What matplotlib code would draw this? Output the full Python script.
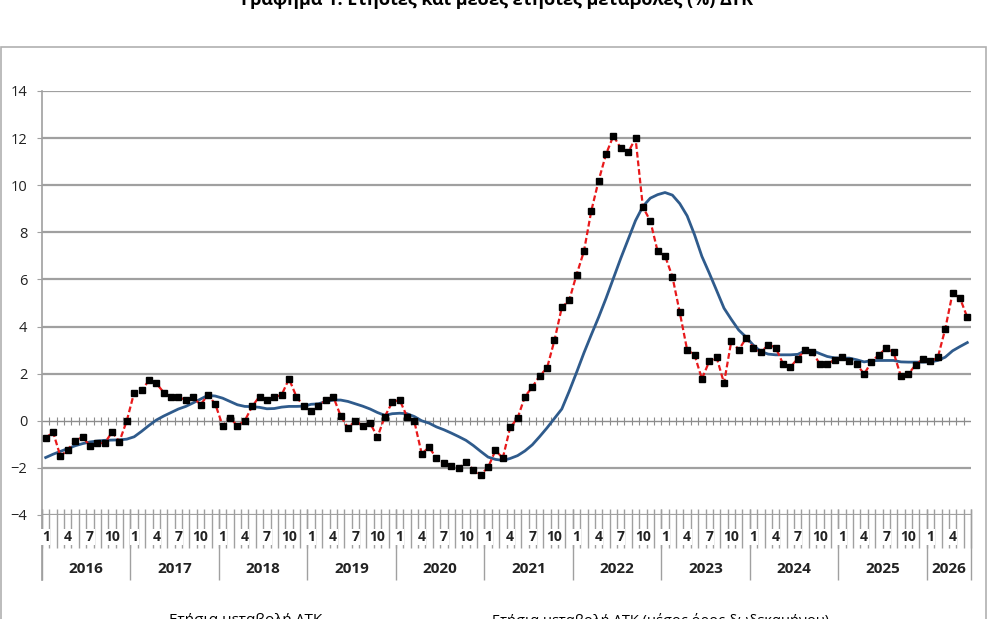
import matplotlib
matplotlib.use("Agg")
import matplotlib.pyplot as plt
import matplotlib.transforms as mtransforms
from matplotlib.patches import Rectangle

plt.rcParams['font.family'] = ['Open Sans', 'DejaVu Sans']

# data: monthly CPI, Jan 2016 - Jun 2026
years = ['2016', '2017', '2018', '2019', '2020', '2021', '2022', '2023', '2024', '2025', '2026']
months_per_year = [12, 12, 12, 12, 12, 12, 12, 12, 12, 12, 6]
month_labels = ['1', '4', '7', '10']

annual_change = [
    -0.73, -0.48, -1.51, -1.23, -0.85, -0.69, -1.06, -0.95, -0.95, -0.48, -0.88, 0.0,
    1.2, 1.29, 1.71, 1.6, 1.2, 1.0, 1.0, 0.89, 1.0, 0.68, 1.1, 0.71,
    -0.21, 0.11, -0.21, 0.0, 0.61, 1.03, 0.89, 1.0, 1.1, 1.78, 1.03, 0.61,
    0.4, 0.61, 0.89, 1.03, 0.21, -0.3, 0.0, -0.21, -0.1, -0.69, 0.18, 0.79,
    0.89, 0.18, -0.03, -1.4, -1.12, -1.59, -1.8, -1.94, -2.01, -1.77, -2.08, -2.29,
    -1.98, -1.26, -1.58, -0.28, 0.11, 1.03, 1.43, 1.91, 2.24, 3.41, 4.81, 5.11,
    6.2, 7.19, 8.91, 10.2, 11.32, 12.1, 11.57, 11.39, 12.0, 9.07, 8.49, 7.19,
    7.0, 6.12, 4.6, 3.01, 2.8, 1.78, 2.52, 2.69, 1.6, 3.4, 3.01, 3.51,
    3.11, 2.9, 3.23, 3.11, 2.42, 2.28, 2.64, 3.01, 2.91, 2.41, 2.41, 2.59,
    2.69, 2.52, 2.41, 1.98, 2.5, 2.8, 3.08, 2.9, 1.88, 1.98, 2.38, 2.62,
    2.52, 2.69, 3.89, 5.42, 5.21, 4.39,
]

avg_change = [
    -1.56, -1.42, -1.30, -1.18, -1.06, -0.97, -0.90, -0.86, -0.83, -0.82, -0.81, -0.78,
    -0.68, -0.45, -0.20, 0.03, 0.20, 0.35, 0.50, 0.61, 0.76, 0.92, 1.08, 1.05,
    0.96, 0.82, 0.68, 0.61, 0.60, 0.57, 0.51, 0.52, 0.58, 0.61, 0.61, 0.62,
    0.70, 0.72, 0.82, 0.88, 0.88, 0.82, 0.72, 0.62, 0.50, 0.35, 0.23, 0.30,
    0.32, 0.30, 0.18, 0.00, -0.10, -0.26, -0.38, -0.52, -0.67, -0.83, -1.05, -1.30,
    -1.54, -1.64, -1.68, -1.60, -1.48, -1.28, -1.02, -0.67, -0.30, 0.10, 0.50, 1.25,
    2.05, 2.88, 3.65, 4.40, 5.20, 6.05, 6.90, 7.70, 8.50, 9.10, 9.45, 9.60,
    9.69, 9.58, 9.22, 8.70, 7.90, 6.98, 6.27, 5.53, 4.78, 4.30, 3.85, 3.55,
    3.20, 2.94, 2.83, 2.80, 2.80, 2.80, 2.82, 2.97, 2.98, 2.85, 2.73, 2.67,
    2.66, 2.66, 2.59, 2.50, 2.55, 2.56, 2.56, 2.56, 2.50, 2.49, 2.49, 2.49,
    2.50, 2.56, 2.70, 2.97, 3.15, 3.32,
]

n = len(annual_change)
x = list(range(n))

fig = plt.figure(figsize=(9.9, 6.19), dpi=100)
ax = fig.add_axes([42 / 990, 1 - 515 / 619, 929 / 990, 424 / 619])

grid_col = '#a0a0a0'

# outer chart-area border
fig.patches.append(Rectangle((1 / 990, -0.05), 985 / 990, 1.05 - 47 / 619,
                             transform=fig.transFigure, fill=False,
                             edgecolor='#b0b0b0', linewidth=1.2))

# gridlines (0 is the axis line)
for v in range(-4, 15, 2):
    if v == 0:
        continue
    ax.axhline(v, color=grid_col, linewidth=1.6, zorder=1)
ax.axhline(0, color='#8c8c8c', linewidth=1.0, zorder=1)
# cross tick marks on the zero line
ax.vlines([i - 0.5 for i in range(1, n)], -0.16, 0.16, color='#8c8c8c', linewidth=0.8, zorder=1)

ax.plot(x, avg_change, color='#2f5b8c', linewidth=2.0, zorder=3)
ax.plot(x, annual_change, color='#e8191b', linewidth=1.6, dashes=(2.6, 1.3), zorder=4,
        marker='s', markersize=3.8, markerfacecolor='black', markeredgecolor='black')

ax.set_xlim(-0.5, n - 0.5)
ax.set_ylim(-4, 14)
ax.set_yticks(range(-4, 15, 2))
ax.set_xticks([])
ax.tick_params(axis='y', length=3.6, color=grid_col, labelsize=10.5, pad=7, labelcolor='#222222')
for s in ['top', 'right', 'bottom', 'left']:
    ax.spines[s].set_visible(False)

# category axis drawn by hand (multi-level labels)
trans = mtransforms.blended_transform_factory(ax.transData, ax.transAxes)
bounds = [i - 0.5 for i in range(n + 1)]
ax.vlines(bounds, -0.078, 0.014, color=grid_col, linewidth=1.0, transform=trans, clip_on=False, zorder=0)
year_bounds = [-0.5]
start = 0
for yr, m in zip(years, months_per_year):
    for k in range(m):
        if str(k + 1) in month_labels:
            ax.text(start + k, -0.052, str(k + 1), transform=trans, ha='center', va='center',
                    fontsize=10, fontweight='bold', color='#222222',
                    bbox=dict(boxstyle='square,pad=0.05', fc='white', ec='none'))
    ax.text(start + (m - 1) / 2, -0.127, yr, transform=trans, ha='center', va='center',
            fontsize=11, fontweight='bold', color='#222222')
    start += m
    year_bounds.append(start - 0.5)
ax.vlines(year_bounds, -0.153, 0.014, color=grid_col, linewidth=1.0, transform=trans, clip_on=False, zorder=0)
ax.plot([-0.5, -0.5], [-0.153, 1.0], color=grid_col, linewidth=1.2, transform=trans, clip_on=False)

# title and legend (cut off by the image edges, as in the original)
fig.text(497 / 990, 1 - 5 / 619, 'Γράφημα 1: Ετήσιες και μέσες ετήσιες μεταβολές (%) ΔΤΚ',
         ha='center', va='baseline', fontsize=13, fontweight='bold')
fig.text(246 / 990, 1 - 613 / 619, 'Ετήσια μεταβολή ΔΤΚ', ha='center', va='top', fontsize=11)
fig.text(661 / 990, 1 - 613 / 619, 'Ετήσια μεταβολή ΔΤΚ (μέσος όρος δωδεκαμήνου)',
         ha='center', va='top', fontsize=10.5)

fig.savefig('out.png', dpi=100)
